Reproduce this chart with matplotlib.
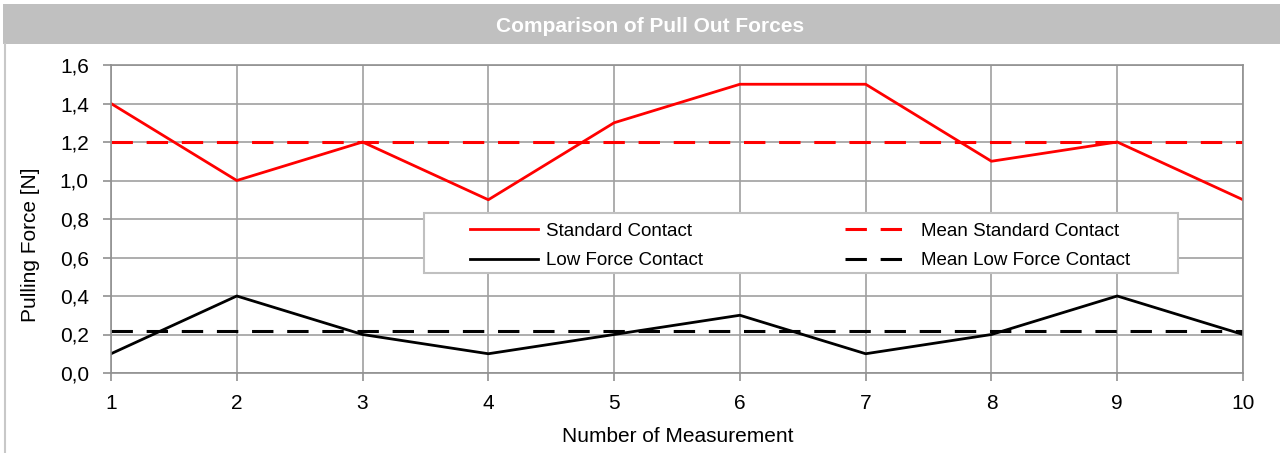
import matplotlib
matplotlib.use("Agg")
import matplotlib.pyplot as plt
from matplotlib.patches import Rectangle
from matplotlib.lines import Line2D
from matplotlib import font_manager

names = {f.name for f in font_manager.fontManager.ttflist}
fam = ["Liberation Sans Narrow"] if "Liberation Sans Narrow" in names else ["Liberation Sans"]
plt.rcParams["font.family"] = fam + ["DejaVu Sans"]

measurements = [1, 2, 3, 4, 5, 6, 7, 8, 9, 10]
standard = [1.4, 1.0, 1.2, 0.9, 1.3, 1.5, 1.5, 1.1, 1.2, 0.9]
low_force = [0.1, 0.4, 0.2, 0.1, 0.2, 0.3, 0.1, 0.2, 0.4, 0.2]
mean_standard = 1.2
mean_low = 0.22
yticks = [0.0, 0.2, 0.4, 0.6, 0.8, 1.0, 1.2, 1.4, 1.6]
ytick_labels = ["0,0", "0,2", "0,4", "0,6", "0,8", "1,0", "1,2", "1,4", "1,6"]

W, H = 1280, 453
fig = plt.figure(figsize=(W / 100, H / 100), dpi=100)

# title bar
fig.patches.append(Rectangle((3 / W, 1 - 44 / H), 1 - 3 / W, 40 / H, transform=fig.transFigure,
                             facecolor="#c0c0c0", edgecolor="none", zorder=0))
fig.text(650 / W, 1 - 27 / H, "Comparison of Pull Out Forces", color="white", fontsize=15,
         fontweight="bold", ha="center", va="center")
# left border line
fig.add_artist(Line2D([5 / W, 5 / W], [0, 1 - 44 / H], transform=fig.transFigure,
                      color="#c8c8c8", lw=1.5))

left, right, top, bottom = 111, 1243, 65, 373
aw, ah = right - left, bottom - top
ax = fig.add_axes([left / W, 1 - bottom / H, aw / W, ah / H])

def px2ax(x, y):
    return (x - left) / aw, (bottom - y) / ah

dash = (0, (7, 4.5))
ax.plot(measurements, standard, color="#ff0000", lw=2, label="Standard Contact")
ax.plot(measurements, [mean_standard] * len(measurements), color="#ff0000", lw=2.2,
        ls=dash, label="Mean Standard Contact")
ax.plot(measurements, low_force, color="black", lw=2, label="Low Force Contact")
ax.plot(measurements, [mean_low] * len(measurements), color="black", lw=2.2,
        ls=dash, label="Mean Low Force Contact")

ax.set_xlim(1, 10)
ax.set_ylim(0, 1.6)
ax.set_xticks(measurements)
ax.set_yticks(yticks)
ax.set_yticklabels(ytick_labels)
ax.grid(True, color="#a0a0a0", lw=1.2)
ax.set_axisbelow(True)
for s in ax.spines.values():
    s.set_color("#909090")
    s.set_linewidth(1.2)
ax.tick_params(axis="both", colors="#909090", labelcolor="black", labelsize=15, length=6, width=1.2)
ax.tick_params(axis="x", pad=9)
ax.tick_params(axis="y", pad=10)
ax.set_xlabel("Number of Measurement", fontsize=15)
ax.set_ylabel("Pulling Force [N]", fontsize=15)
ax.xaxis.set_label_coords(*px2ax(678, 436))
ax.xaxis.label.set_va("center")
ax.yaxis.set_label_coords(*px2ax(31, 245))
ax.yaxis.label.set_va("center")

# legend frame
x0, y0 = px2ax(424, 273)
x1, y1 = px2ax(1178, 213)
ax.add_patch(Rectangle((x0, y0), x1 - x0, y1 - y0, transform=ax.transAxes, facecolor="white",
                       edgecolor="#c0c0c0", lw=1.5, zorder=4, clip_on=False))

h, l = ax.get_legend_handles_labels()
order = [0, 2, 1, 3]
leg = ax.legend([h[i] for i in order], [l[i] for i in order], ncol=2,
                loc="upper left", bbox_to_anchor=px2ax(461, 213),
                fontsize=13.5, frameon=False, handlelength=3.6, columnspacing=7.6,
                borderpad=0, labelspacing=0.68, handletextpad=0.43)
leg.set_zorder(5)

fig.savefig("out.png", dpi=100)
